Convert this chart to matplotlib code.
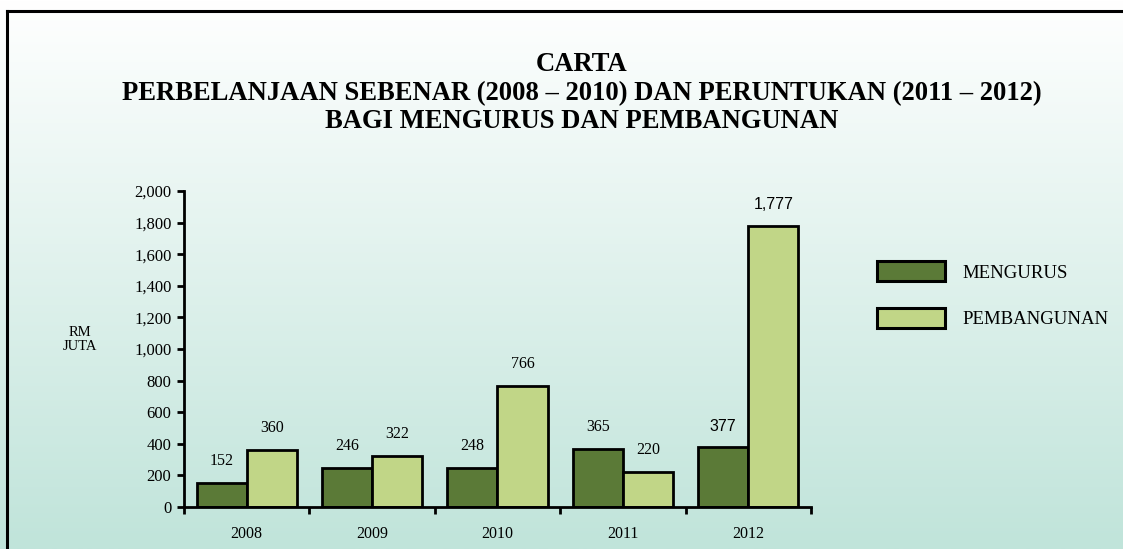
import matplotlib
matplotlib.use("Agg")
import matplotlib.pyplot as plt
import numpy as np
from matplotlib.lines import Line2D
from matplotlib.patches import Patch

years = ["2008", "2009", "2010", "2011", "2012"]
mengurus = [152, 246, 248, 365, 377]
pembangunan = [360, 322, 766, 220, 1777]
label_mengurus = ["152", "246", "248", "365", "377"]
label_pemb = ["360", "322", "766", "220", "1,777"]
yticks = list(range(0, 2001, 200))

c_dark = "#5b7a37"
c_light = "#c1d687"
serif = "Liberation Serif"
sans = "Liberation Sans"

fig = plt.figure(figsize=(11.23, 5.49), dpi=100)

# background gradient, white at top -> mint at bottom
bg = fig.add_axes([0, 0, 1, 1], zorder=-10)
top = np.array([1.0, 1.0, 1.0])
bot = np.array([192, 228, 218]) / 255.0
t = np.linspace(0, 1, 300)[:, None]
grad = top * (1 - t) + bot * t
bg.imshow(grad[:, None, :], aspect="auto", extent=[0, 1, 0, 1])
bg.set_axis_off()

# top and left frame lines
fig.add_artist(Line2D([7 / 1123, 1], [1 - 11 / 549, 1 - 11 / 549], color="black", lw=2.2,
                      transform=fig.transFigure))
fig.add_artist(Line2D([7 / 1123, 7 / 1123], [0, 1 - 11 / 549], color="black", lw=2.2,
                      transform=fig.transFigure))

ax = fig.add_axes([184 / 1123, 42 / 549, 627 / 1123, 316 / 549])
ax.patch.set_alpha(0)

x = np.arange(len(years))
w = 0.4
b1 = ax.bar(x - w / 2, mengurus, w, color=c_dark, edgecolor="black", linewidth=2)
b2 = ax.bar(x + w / 2, pembangunan, w, color=c_light, edgecolor="black", linewidth=2)

for i in range(len(years)):
    fam = sans if i == 4 else serif
    ax.annotate(label_mengurus[i], (x[i] - w / 2, mengurus[i]), xytext=(0, 10),
                textcoords="offset points", ha="center", va="bottom",
                fontsize=11.5, family=fam)
    ax.annotate(label_pemb[i], (x[i] + w / 2, pembangunan[i]), xytext=(0, 10),
                textcoords="offset points", ha="center", va="bottom",
                fontsize=11.5, family=fam)

ax.set_xlim(-0.5, 4.5)
ax.set_ylim(0, 2000)
ax.set_yticks(yticks)
ax.set_yticklabels(["{:,}".format(v) for v in yticks], family=serif, fontsize=12)
ax.set_xticks(x)
ax.set_xticklabels(years, family=serif, fontsize=11.5)
ax.tick_params(axis="x", which="major", length=0, pad=14)
ax.set_xticks(np.arange(-0.5, 5, 1), minor=True)
ax.tick_params(axis="x", which="minor", length=5, width=2, direction="out")
ax.tick_params(axis="y", length=5, width=2, direction="out", pad=4)
for s in ["top", "right"]:
    ax.spines[s].set_visible(False)
for s in ["left", "bottom"]:
    ax.spines[s].set_linewidth(2)

fig.text(80 / 1123, 1 - 339 / 549, "RM\nJUTA", ha="center", va="center",
         family=serif, fontsize=10.5, linespacing=1.1)

title_lines = ["CARTA",
               "PERBELANJAAN SEBENAR (2008 \u2013 2010) DAN PERUNTUKAN (2011 \u2013 2012)",
               "BAGI MENGURUS DAN PEMBANGUNAN"]
for line, yb in zip(title_lines, [71, 100, 128]):
    fig.text(582 / 1123, 1 - yb / 549, line, ha="center", va="baseline",
             family=serif, fontsize=19.2, weight="bold")

handles = [Patch(facecolor=c_dark, edgecolor="black", linewidth=2.2),
           Patch(facecolor=c_light, edgecolor="black", linewidth=2.2)]
fig.legend(handles, ["MENGURUS", "PEMBANGUNAN"], loc="upper left",
           bbox_to_anchor=(877 / 1123, 1 - 261 / 549), frameon=False,
           borderaxespad=0, borderpad=0,
           prop={"family": serif, "size": 13.5}, handlelength=3.63, handleheight=1.3,
           handletextpad=0.95, labelspacing=1.4)

fig.savefig("out.png", dpi=100)
